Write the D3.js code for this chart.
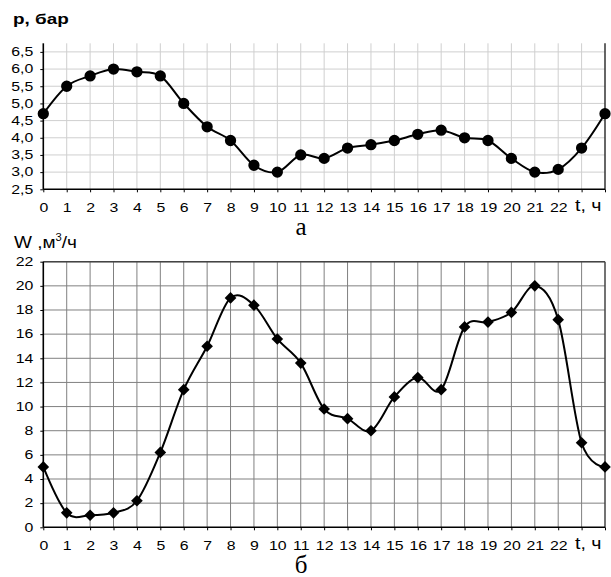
<!DOCTYPE html>
<html>
<head>
<meta charset="utf-8">
<script src="https://cdn.jsdelivr.net/npm/d3@7"></script>
<style>
  html, body { margin: 0; padding: 0; background: #fff; }
  svg { display: block; }
  text { fill: #000; }
</style>
</head>
<body>
<svg id="chart" width="611" height="577"></svg>
<script>
// Hours of the day, 0..24
const hours = d3.range(0, 25);
const hourLabels = d3.range(0, 23);

// Pressure, bar (plot "а")
const pressure = [4.7, 5.5, 5.8, 6.0, 5.92, 5.8, 5.0, 4.32, 3.92, 3.2, 3.0, 3.5, 3.4,
                  3.7, 3.8, 3.92, 4.1, 4.22, 4.0, 3.92, 3.4, 3.0, 3.08, 3.7, 4.7];
const pressureTicks = [2.5, 3.0, 3.5, 4.0, 4.5, 5.0, 5.5, 6.0, 6.5];

// Flow rate, m³/h (plot "б")
const flow = [5.0, 1.2, 1.0, 1.2, 2.2, 6.2, 11.4, 15.0, 19.0, 18.4, 15.6, 13.6, 9.8,
              9.0, 8.0, 10.8, 12.4, 11.4, 16.6, 17.0, 17.8, 20.0, 17.2, 7.0, 5.0];
const flowTicks = d3.range(0, 23, 2);

const SANS = "Arial, 'Liberation Sans', sans-serif";
const SERIF = "'Times New Roman', 'Liberation Serif', serif";

const svg = d3.select("#chart").style("font-family", SANS);
const SX = 1.32; // horizontal stretch of the lettering

function stretchText(sel, sx) {
  sel.each(function () {
    const t = d3.select(this);
    const x = +t.attr("x") || 0;
    t.attr("x", x / sx).attr("transform", `scale(${sx},1)`);
  });
}

function panel(cfg) {
  const x = d3.scaleLinear().domain([0, 24]).range([43.3, 605]);
  const y = d3.scaleLinear().domain(cfg.yDomain).range([cfg.bottom, cfg.top]);
  const g = svg.append("g");

  // grid
  g.append("g").selectAll("line").data(hours.slice(1, 24)).join("line")
    .attr("x1", d => x(d)).attr("x2", d => x(d))
    .attr("y1", cfg.top).attr("y2", cfg.bottom)
    .attr("stroke", cfg.gridColor).attr("stroke-width", cfg.gridWidth);
  g.append("g").selectAll("line").data(cfg.ticks.filter(t => t !== cfg.yDomain[0])).join("line")
    .attr("x1", x(0)).attr("x2", x(24))
    .attr("y1", d => y(d)).attr("y2", d => y(d))
    .attr("stroke", cfg.gridColor).attr("stroke-width", cfg.gridWidth);

  // frame: right edge, and top edge for the lower plot
  g.append("line").attr("x1", x(24)).attr("x2", x(24)).attr("y1", cfg.top).attr("y2", cfg.bottom)
    .attr("stroke", cfg.frameColor).attr("stroke-width", 1.5);
  if (cfg.topFrame) {
    g.append("line").attr("x1", x(0)).attr("x2", x(24)).attr("y1", cfg.top).attr("y2", cfg.top)
      .attr("stroke", cfg.frameColor).attr("stroke-width", 1.5);
  }

  // axes
  const yAxis = g.append("g").attr("transform", `translate(${x(0)},0)`)
    .call(d3.axisLeft(y).tickValues(cfg.ticks).tickSize(3).tickPadding(7).tickFormat(cfg.fmt));
  const xAxis = g.append("g").attr("transform", `translate(0,${cfg.bottom})`)
    .call(d3.axisBottom(x).tickValues(hours).tickSize(3).tickPadding(11)
      .tickFormat(d => hourLabels.includes(d) ? d : ""));
  [yAxis, xAxis].forEach(a => {
    a.select(".domain").attr("stroke", "#000").attr("stroke-width", 1.6);
    a.selectAll(".tick line").attr("stroke", "#000").attr("stroke-width", 1);
    a.selectAll(".tick text").attr("font-size", 12).attr("fill", "#000")
      .attr("font-family", SANS);
    stretchText(a.selectAll(".tick text"), SX);
  });
  yAxis.select(".domain").attr("d", `M0,${cfg.bottom}V${cfg.top}`);
  xAxis.select(".domain").attr("d", `M${x(0)},0H${x(24)}`);

  // series
  const line = d3.line().x((d, i) => x(hours[i])).y(d => y(d)).curve(d3.curveCatmullRom.alpha(0));
  g.append("path").datum(cfg.values).attr("d", line)
    .attr("fill", "none").attr("stroke", "#000").attr("stroke-width", 2);
  const sym = d3.symbol().type(cfg.marker).size(cfg.markerSize);
  g.append("g").selectAll("path").data(cfg.values).join("path")
    .attr("d", sym)
    .attr("transform", (d, i) => `translate(${x(hours[i])},${y(d)}) rotate(${cfg.markerRotate})`)
    .attr("fill", "#000");

  // axis name on the time axis
  g.append("text").attr("transform", `translate(575,${cfg.bottom + 22}) scale(1.15,1)`)
    .attr("font-size", 17).text("t, ч");

  // panel letter
  g.append("text").attr("x", 301).attr("y", cfg.letterY)
    .attr("text-anchor", "middle")
    .style("font-family", SERIF)
    .attr("font-size", 25).text(cfg.letter);
  return g;
}

panel({
  yDomain: [2.5, 6.75], top: 43.3, bottom: 189.3, ticks: pressureTicks,
  fmt: d => d3.format(".1f")(d).replace(".", ","),
  values: pressure, gridColor: "#cfcfcf", gridWidth: 1, frameColor: "#333",
  topFrame: false, marker: d3.symbolCircle, markerSize: 100, markerRotate: 0,
  letter: "а", letterY: 235
});

panel({
  yDomain: [0, 22], top: 261.7, bottom: 527.3, ticks: flowTicks,
  fmt: d => d,
  values: flow, gridColor: "#808080", gridWidth: 1, frameColor: "#444",
  topFrame: true, marker: d3.symbolSquare, markerSize: 68, markerRotate: 45,
  letter: "б", letterY: 573
});

// value axis titles
svg.append("text").attr("transform", "translate(13,24) scale(1.35,1)")
  .attr("font-size", 14).attr("font-weight", "bold").text("p, бар");

const wt = svg.append("text").attr("transform", "translate(14,248) scale(1.12,1)").attr("font-size", 17);
wt.append("tspan").text("W ,м");
wt.append("tspan").attr("font-size", 10).attr("dy", -7).text("3");
wt.append("tspan").attr("dy", 7).text("/ч");
</script>
</body>
</html>
